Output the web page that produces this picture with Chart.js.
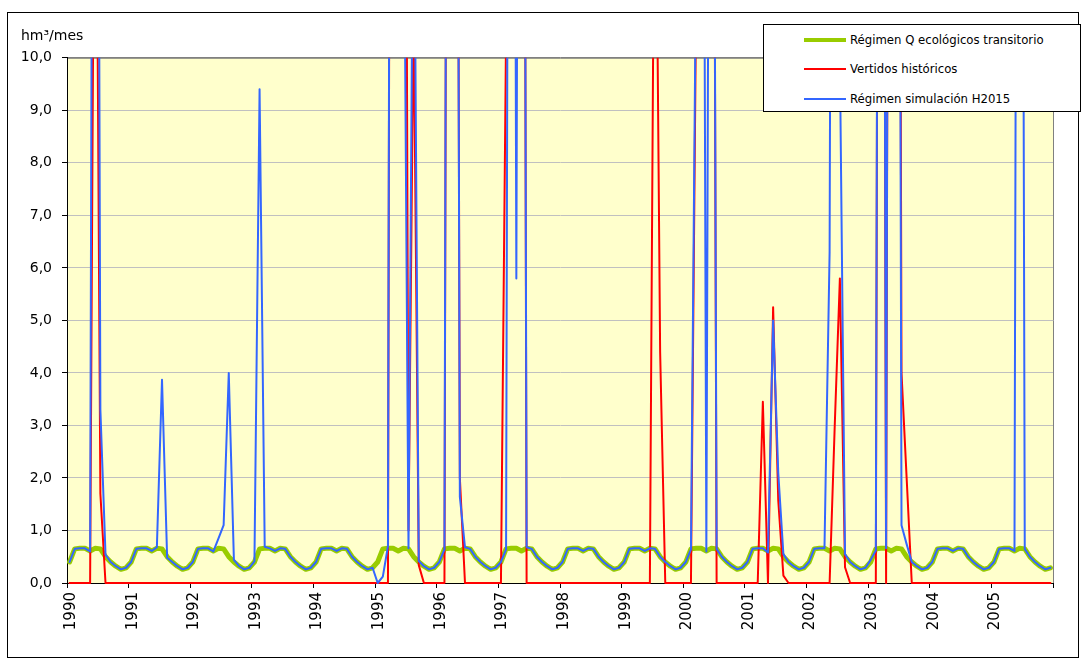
<!DOCTYPE html>
<html>
<head>
<meta charset="utf-8">
<script src="https://cdn.jsdelivr.net/npm/chart.js@4.4.1/dist/chart.umd.min.js"></script>
<style>
  html, body { margin: 0; padding: 0; background: #fff; }
  #wrap { position: relative; width: 1081px; height: 664px; }
  #frame { position: absolute; left: 7px; top: 12px; width: 1070px; height: 644px; border: 1px solid #000; pointer-events: none; }
  #legend { position: absolute; left: 763px; top: 24px; width: 316px; height: 86px; border: 1px solid #000; background: #fff;
            font-family: "DejaVu Sans Condensed", "Liberation Sans", sans-serif; font-size: 13px; color: #000; }
  #legend .row { position: absolute; left: 0; height: 16px; width: 100%; }
  #legend .sw { position: absolute; left: 40px; width: 42px; }
  #legend .tx { position: absolute; left: 86px; top: 0; line-height: 16px; white-space: nowrap; }
</style>
</head>
<body>
<div id="wrap">
  <canvas id="flowChart" width="1081" height="664"></canvas>
  <div id="frame"></div>
  <div id="legend"></div>
</div>
<script>
// monthly values, Jan 1990 .. Dec 2005 (hm3/mes), one row per year
const firstYear = 1990;
const yTicks = [0, 1, 2, 3, 4, 5, 6, 7, 8, 9, 10];

const qEcologico = [
  0.40, 0.65, 0.66, 0.66, 0.61, 0.66, 0.65, 0.50, 0.40, 0.32, 0.26, 0.29, // 1990
  0.40, 0.65, 0.66, 0.66, 0.61, 0.66, 0.65, 0.50, 0.40, 0.32, 0.26, 0.29, // 1991
  0.40, 0.65, 0.66, 0.66, 0.61, 0.66, 0.65, 0.50, 0.40, 0.32, 0.26, 0.29, // 1992
  0.40, 0.65, 0.66, 0.66, 0.61, 0.66, 0.65, 0.50, 0.40, 0.32, 0.26, 0.29, // 1993
  0.40, 0.65, 0.66, 0.66, 0.61, 0.66, 0.65, 0.50, 0.40, 0.32, 0.26, 0.29, // 1994
  0.40, 0.65, 0.66, 0.66, 0.61, 0.66, 0.65, 0.50, 0.40, 0.32, 0.26, 0.29, // 1995
  0.40, 0.65, 0.66, 0.66, 0.61, 0.66, 0.65, 0.50, 0.40, 0.32, 0.26, 0.29, // 1996
  0.40, 0.65, 0.66, 0.66, 0.61, 0.66, 0.65, 0.50, 0.40, 0.32, 0.26, 0.29, // 1997
  0.40, 0.65, 0.66, 0.66, 0.61, 0.66, 0.65, 0.50, 0.40, 0.32, 0.26, 0.29, // 1998
  0.40, 0.65, 0.66, 0.66, 0.61, 0.66, 0.65, 0.50, 0.40, 0.32, 0.26, 0.29, // 1999
  0.40, 0.65, 0.66, 0.66, 0.61, 0.66, 0.65, 0.50, 0.40, 0.32, 0.26, 0.29, // 2000
  0.40, 0.65, 0.66, 0.66, 0.61, 0.66, 0.65, 0.50, 0.40, 0.32, 0.26, 0.29, // 2001
  0.40, 0.65, 0.66, 0.66, 0.61, 0.66, 0.65, 0.50, 0.40, 0.32, 0.26, 0.29, // 2002
  0.40, 0.65, 0.66, 0.66, 0.61, 0.66, 0.65, 0.50, 0.40, 0.32, 0.26, 0.29, // 2003
  0.40, 0.65, 0.66, 0.66, 0.61, 0.66, 0.65, 0.50, 0.40, 0.32, 0.26, 0.29, // 2004
  0.40, 0.65, 0.66, 0.66, 0.61, 0.66, 0.65, 0.50, 0.40, 0.32, 0.26, 0.29  // 2005
];

const vertidos = [
  0, 0, 0, 0, 0, 17.7, 1.7, 0, 0, 0, 0, 0,        // 1990
  0, 0, 0, 0, 0, 0, 0, 0, 0, 0, 0, 0,             // 1991
  0, 0, 0, 0, 0, 0, 0, 0, 0, 0, 0, 0,             // 1992
  0, 0, 0, 0, 0, 0, 0, 0, 0, 0, 0, 0,             // 1993
  0, 0, 0, 0, 0, 0, 0, 0, 0, 0, 0, 0,             // 1994
  0, 0, 0, 45, 40, 30, 1.0, 11, 0.34, 0, 0, 0,    // 1995
  0, 0, 40, 35, 2.0, 0, 0, 0, 0, 0, 0, 0,         // 1996
  0, 10.5, 40, 40, 40, 0, 0, 0, 0, 0, 0, 0,       // 1997
  0, 0, 0, 0, 0, 0, 0, 0, 0, 0, 0, 0,             // 1998
  0, 0, 0, 0, 0, 0, 16, 4.4, 0, 0, 0, 0,          // 1999
  0, 0, 11, 30, 30, 30, 0, 0, 0, 0, 0, 0,         // 2000
  0, 0, 0, 3.45, 0, 5.25, 1.57, 0.14, 0, 0, 0, 0, // 2001
  0, 0, 0, 0, 0, 3.0, 5.8, 0.3, 0, 0, 0, 0,       // 2002
  0, 0, 40, 0, 40, 40, 4.0, 2.0, 0, 0, 0, 0,      // 2003
  0, 0, 0, 0, 0, 0, 0, 0, 0, 0, 0, 0,             // 2004
  0, 0, 0, 0, 0, 0, 0, 0, 0, 0, 0, 0              // 2005
];

const simulacion = [
  0.40, 0.65, 0.66, 0.66, 0.60, 35, 3.30, 0.54, 0.40, 0.32, 0.26, 0.29,   // 1990
  0.40, 0.65, 0.66, 0.66, 0.61, 0.68, 3.87, 0.48, 0.40, 0.32, 0.26, 0.29, // 1991
  0.40, 0.65, 0.66, 0.66, 0.60, 0.85, 1.10, 4.00, 0.44, 0.32, 0.26, 0.29, // 1992
  0.41, 9.40, 0.69, 0.66, 0.61, 0.66, 0.65, 0.50, 0.40, 0.32, 0.26, 0.29, // 1993
  0.40, 0.65, 0.66, 0.66, 0.61, 0.66, 0.65, 0.50, 0.40, 0.32, 0.26, 0.29, // 1994
  0.00, 0.12, 0.70, 45, 40, 15, 0.66, 15, 0.42, 0.32, 0.26, 0.29,         // 1995
  0.40, 0.64, 40, 35, 1.64, 0.68, 0.65, 0.50, 0.40, 0.32, 0.26, 0.29,     // 1996
  0.40, 0.64, 40, 5.80, 40, 0.68, 0.65, 0.50, 0.40, 0.32, 0.26, 0.29,     // 1997
  0.40, 0.65, 0.66, 0.66, 0.61, 0.66, 0.65, 0.50, 0.40, 0.32, 0.26, 0.29, // 1998
  0.40, 0.65, 0.66, 0.66, 0.61, 0.66, 0.65, 0.50, 0.40, 0.32, 0.26, 0.29, // 1999
  0.40, 0.64, 12, 30, 0.60, 30, 0.65, 0.50, 0.40, 0.32, 0.26, 0.29,       // 2000
  0.40, 0.65, 0.66, 0.66, 0.58, 5.00, 2.10, 0.55, 0.40, 0.32, 0.26, 0.29, // 2001
  0.40, 0.65, 0.66, 0.66, 6.30, 40, 10, 0.55, 0.40, 0.32, 0.26, 0.29,     // 2002
  0.44, 0.62, 40, 0.66, 40, 40, 1.10, 0.74, 0.40, 0.32, 0.26, 0.29,       // 2003
  0.40, 0.65, 0.66, 0.66, 0.61, 0.66, 0.65, 0.50, 0.40, 0.32, 0.26, 0.29, // 2004
  0.40, 0.65, 0.66, 0.66, 0.61, 40, 0.65, 0.50, 0.40, 0.32, 0.26, 0.29    // 2005
];

const seriesNames = ['Régimen Q ecológicos transitorio', 'Vertidos históricos', 'Régimen simulación H2015'];
const seriesColors = ['#99CC00', '#FF0000', '#3366FF'];
const seriesWidths = [5, 2, 2];

// month i sits in the middle of its slot on a linear month axis
const toPoints = arr => arr.map((v, i) => ({ x: i + 0.5, y: v }));
const nMonths = qEcologico.length;

// yellow plot area with grey top/right edge
const plotBackground = {
  id: 'plotBackground',
  beforeDraw(chart) {
    const { ctx, chartArea: a } = chart;
    ctx.save();
    ctx.fillStyle = '#fff';
    ctx.fillRect(0, 0, chart.width, chart.height);
    ctx.fillStyle = '#FFFFCC';
    ctx.fillRect(a.left, a.top, a.right - a.left, a.bottom - a.top);
    ctx.strokeStyle = '#808080';
    ctx.lineWidth = 1;
    ctx.beginPath();
    ctx.moveTo(a.left, a.top + 0.5);
    ctx.lineTo(a.right + 0.5, a.top + 0.5);
    ctx.lineTo(a.right + 0.5, a.bottom);
    ctx.stroke();
    ctx.restore();
  }
};

Chart.defaults.font.family = '"DejaVu Sans", sans-serif';
Chart.defaults.font.size = 14;
Chart.defaults.color = '#000';

const lineSet = (k, data, order) => ({
  label: seriesNames[k],
  data: toPoints(data),
  borderColor: seriesColors[k],
  backgroundColor: seriesColors[k],
  borderWidth: seriesWidths[k],
  pointRadius: 0,
  tension: 0,
  fill: false,
  borderJoinStyle: 'round',
  borderCapStyle: 'round',
  clip: { left: 2, top: 0, right: 2, bottom: 4 },
  order: order
});

const ctx = document.getElementById('flowChart').getContext('2d');
const flowChart = new Chart(ctx, {
  type: 'line',
  data: {
    datasets: [
      lineSet(0, qEcologico, 3),
      lineSet(1, vertidos, 2),
      lineSet(2, simulacion, 1)
    ]
  },
  options: {
    responsive: false,
    animation: false,
    layout: { padding: { left: 21, right: 28, top: 0, bottom: 0 } },
    scales: {
      x: {
        type: 'linear',
        min: 0,
        max: nMonths,
        afterFit: s => { s.height = 81; },
        afterBuildTicks: s => { s.ticks = Array.from({ length: nMonths / 12 + 1 }, (_, k) => ({ value: k * 12 })); },
        ticks: {
          autoSkip: false,
          maxRotation: 90,
          minRotation: 90,
          padding: 4,
          labelOffset: 4,
          font: { size: 15 },
          callback: v => v < nMonths ? String(firstYear + v / 12) : ''
        },
        grid: { drawOnChartArea: false, tickColor: '#000', tickLength: 5 },
        border: { color: '#000', width: 1 }
      },
      y: {
        min: 0,
        max: 10,
        afterFit: s => { s.width = 46; },
        afterBuildTicks: s => { s.ticks = yTicks.map(v => ({ value: v })); },
        ticks: {
          padding: 10,
          callback: v => v.toFixed(1).replace('.', ',')
        },
        grid: {
          color: c => (c.tick && c.tick.value === 10) ? '#808080' : '#C0C0C0',
          tickColor: '#000',
          tickLength: 5,
          lineWidth: 1
        },
        border: { color: '#000', width: 1 }
      }
    },
    plugins: {
      legend: { display: false },
      tooltip: { enabled: false },
      title: {
        display: true,
        text: 'hm³/mes',
        align: 'start',
        color: '#000',
        font: { size: 14, weight: 'normal' },
        padding: { top: 28, bottom: 13 }
      }
    }
  },
  plugins: [plotBackground]
});

// legend box like the original, overlapping the top right corner
const legendBox = document.getElementById('legend');
const rowTops = [7, 36, 66];
seriesNames.forEach((name, k) => {
  const row = document.createElement('div');
  row.className = 'row';
  row.style.top = rowTops[k] + 'px';
  const sw = document.createElement('span');
  sw.className = 'sw';
  sw.style.height = seriesWidths[k] === 5 ? '4px' : '2px';
  sw.style.top = (8 - (seriesWidths[k] === 5 ? 2 : 1)) + 'px';
  sw.style.background = seriesColors[k];
  const tx = document.createElement('span');
  tx.className = 'tx';
  tx.textContent = name;
  row.appendChild(sw);
  row.appendChild(tx);
  legendBox.appendChild(row);
});
</script>
</body>
</html>
